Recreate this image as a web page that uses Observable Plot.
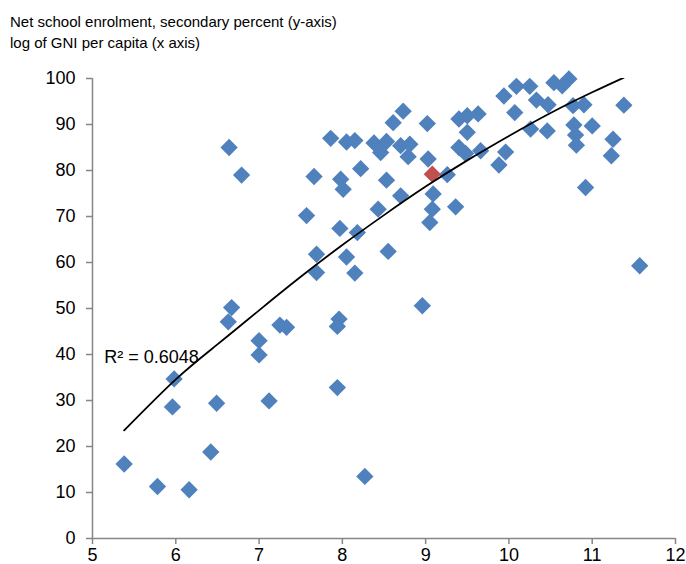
<!DOCTYPE html>
<html><head><meta charset="utf-8">
<script src="https://cdn.jsdelivr.net/npm/d3@7"></script>
<script src="https://cdn.jsdelivr.net/npm/@observablehq/plot@0.6"></script>
<style>
body{margin:0;background:#fff;font-family:"Liberation Sans",Arial,sans-serif;}
#title{box-sizing:border-box;padding:11px 0 0 10px;height:50px;font-size:15px;line-height:21px;color:#000;}
#chart svg{display:block}
</style></head><body>
<div id="title">Net school enrolment, secondary percent (y-axis)<br>log of GNI per capita (x axis)</div>
<div id="chart"></div>
<script>
// log of GNI per capita (x) and net secondary enrolment % (y), blue series
const logGNI = [
  6.64, 6.79, 7.66, 7.57, 7.69, 7.69, 6.67, 6.63, 7.00, 7.00, 7.25, 7.33, 7.96, 7.94, 7.94, 5.98, 5.96, 6.49, 7.12, 6.42, 5.38, 5.78, 6.16, 8.27, 8.96,
  7.86, 8.05, 8.15, 8.38, 8.46, 8.53, 8.61, 8.73, 8.70, 8.81, 8.79, 8.22, 7.98, 8.01, 8.53, 8.43, 8.70, 7.97, 8.18, 8.05, 8.15, 8.55,
  9.02, 9.03, 9.26, 9.09, 9.08, 9.05, 9.36, 9.40, 9.50, 9.63, 9.50, 9.40, 9.48, 9.66, 9.88, 9.96, 9.94, 10.09, 10.07, 10.25, 10.33, 10.47,
  10.26, 10.46, 10.54, 10.64, 10.72, 10.77, 10.90, 10.78, 11.00, 10.80, 10.81, 11.25, 11.23, 11.38, 10.92, 11.57
];
const enrolment = [
  85.0, 79.0, 78.7, 70.2, 61.8, 57.8, 50.2, 47.1, 43.0, 39.9, 46.4, 45.9, 47.7, 46.1, 32.8, 34.7, 28.6, 29.4, 29.9, 18.8, 16.2, 11.3, 10.6, 13.5, 50.6,
  87.0, 86.2, 86.5, 86.0, 83.9, 86.3, 90.4, 92.9, 85.4, 85.7, 83.0, 80.4, 78.1, 75.9, 77.9, 71.6, 74.5, 67.4, 66.5, 61.2, 57.7, 62.4,
  90.2, 82.5, 79.1, 74.9, 71.6, 68.7, 72.1, 91.2, 91.9, 92.3, 88.3, 85.0, 83.7, 84.3, 81.2, 84.0, 96.2, 98.3, 92.6, 98.3, 95.3, 94.3,
  89.0, 88.6, 99.1, 98.4, 99.9, 94.1, 94.3, 89.9, 89.7, 87.7, 85.5, 86.8, 83.2, 94.2, 76.3, 59.3
];
// highlighted (red) country
const highlightGNI = [9.08];
const highlightEnrol = [79.2];

// polynomial trendline
const trendX = [5.38, 6.0, 6.5, 7.0, 7.5, 8.0, 8.5, 9.0, 9.5, 10.0, 10.5, 11.0, 11.38];
const trendY = [23.5, 34.6, 42.2, 49.6, 56.9, 63.8, 70.3, 76.5, 82.2, 87.5, 92.5, 97.0, 100.2];

const xTicks = [5, 6, 7, 8, 9, 10, 11, 12];
const yTicks = [0, 10, 20, 30, 40, 50, 60, 70, 80, 90, 100];
const xDomain = [5, 12];
const yDomain = [0, 100];
const r2Label = "R² = 0.6048";

const blue = "#4f81bd", red = "#c0504d", axisGray = "#868686";

const points = logGNI.map((x, i) => ({x, y: enrolment[i]}));
const highlight = highlightGNI.map((x, i) => ({x, y: highlightEnrol[i]}));
const trend = trendX.map((x, i) => ({x, y: trendY[i]}));

const chart = Plot.plot({
  width: 686,
  height: 514,
  marginLeft: 92,
  marginRight: 11,
  marginTop: 28,
  marginBottom: 26,
  style: {fontFamily: "'Liberation Sans', Arial, sans-serif", fontSize: "18px", color: "#000", background: "#fff"},
  x: {domain: xDomain},
  y: {domain: yDomain},
  marks: [
    Plot.ruleX([xDomain[0]], {stroke: axisGray, strokeWidth: 1.5}),
    Plot.ruleY([yDomain[0]], {stroke: axisGray, strokeWidth: 1.5}),
    Plot.axisY({ticks: yTicks, tickSize: 6, tickPadding: 11, stroke: axisGray, strokeWidth: 1.5, fill: "#000", label: null, tickFormat: d => String(d)}),
    Plot.axisX({ticks: xTicks, tickSize: 6, tickPadding: 4, stroke: axisGray, strokeWidth: 1.5, fill: "#000", label: null, tickFormat: d => String(d)}),
    Plot.dot(points, {x: "x", y: "y", symbol: "diamond2", r: 7.8, fill: blue, stroke: "none"}),
    Plot.dot(highlight, {x: "x", y: "y", symbol: "diamond2", r: 7.8, fill: red, stroke: "none"}),
    Plot.line(trend, {x: "x", y: "y", curve: "natural", stroke: "#000", strokeWidth: 1.8, clip: true}),
    Plot.text([r2Label], {x: 5.14, y: 39.3, text: d => d, textAnchor: "start", fontSize: 18, fill: "#000"})
  ]
});
document.getElementById("chart").appendChild(chart);
</script>
</body></html>
